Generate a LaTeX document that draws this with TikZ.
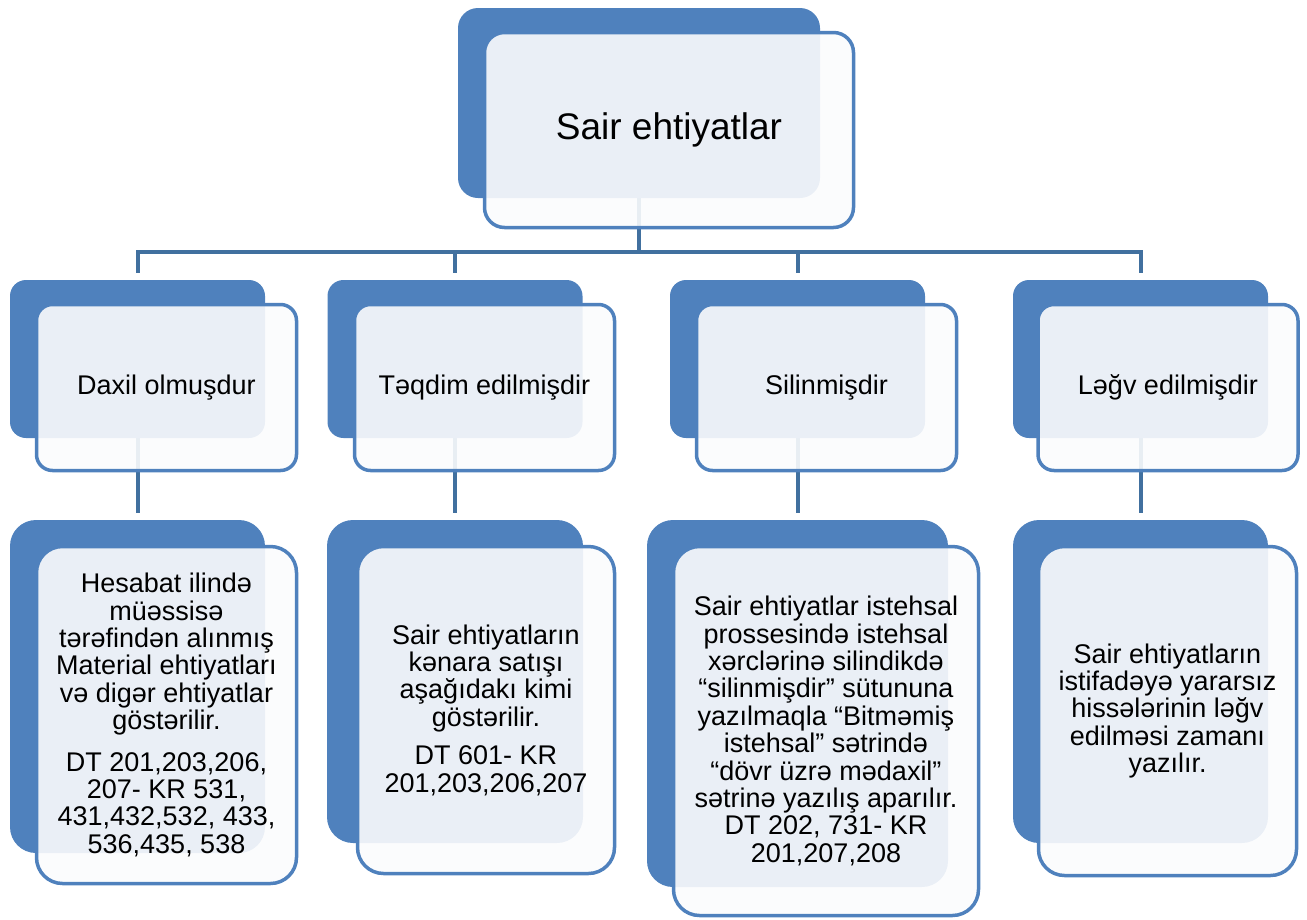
\documentclass[tikz,border=0pt]{standalone}
\usepackage{fontspec}
\setmainfont{Liberation Sans}
\definecolor{accent}{HTML}{4F81BD}
\definecolor{linkblue}{HTML}{41709F}
\definecolor{paper}{HTML}{FBFCFD}
\pgfdeclarelayer{background}
\pgfsetlayers{background,main}
\tikzset{
  backcard/.style={fill=accent, draw=none, inner sep=0pt},
  frontcard/.style={draw=accent, line width=3.5pt, fill=paper, fill opacity=0.9,
    text opacity=1, inner sep=0pt, align=center, text=black},
  rootcard/.style={rounded corners=20pt},
  midcard/.style={rounded corners=16pt},
  leafcard/.style={rounded corners=26pt},
  link/.style={draw=linkblue, line width=4pt},
  rootfont/.style={font=\fontsize{37}{40}\selectfont},
  midfont/.style={font=\fontsize{27}{29}\selectfont},
  leaffont/.style={font=\fontsize{27}{27.4}\selectfont},
}
\begin{document}
\begin{tikzpicture}[x=1pt,y=-1pt]
\path[use as bounding box] (0,0) rectangle (1307,919);

% root card
\node[backcard, rootcard, minimum width=362pt, minimum height=190pt] (rootB) at (639,103) {};
\node[frontcard, rootcard, rootfont, minimum width=369pt, minimum height=195pt] (root) at (669,130) {Sair ehtiyatlar};

% second tier
\node[backcard, midcard, minimum width=255pt, minimum height=158pt] (d1B) at (137.5,359) {};
\node[frontcard, midcard, midfont, minimum width=260pt, minimum height=166pt] (d1) at (166.5,387.5) {Daxil olmuşdur};

\node[backcard, midcard, minimum width=255pt, minimum height=158pt] (d2B) at (455,359) {};
\node[frontcard, midcard, midfont, minimum width=260pt, minimum height=166pt] (d2) at (484.5,387.5) {Təqdim edilmişdir};

\node[backcard, midcard, minimum width=255pt, minimum height=158pt] (d3B) at (797.5,359) {};
\node[frontcard, midcard, midfont, minimum width=260pt, minimum height=166pt] (d3) at (826.5,387.5) {Silinmişdir};

\node[backcard, midcard, minimum width=255pt, minimum height=158pt] (d4B) at (1140.5,359) {};
\node[frontcard, midcard, midfont, minimum width=260pt, minimum height=166pt] (d4) at (1168,387.5) {Ləğv edilmişdir};

% third tier
\node[backcard, leafcard, minimum width=255pt, minimum height=333pt] (e1B) at (137.5,686.5) {};
\node[frontcard, leafcard, leaffont, minimum width=260pt, minimum height=337pt] (e1) at (166.5,715)
  {Hesabat ilində\\ müəssisə\\ tərəfindən alınmış\\ Material ehtiyatları\\ və digər ehtiyatlar\\ göstərilir.\\[14pt]
   DT 201,203,206,\\ 207- KR 531,\\ 431,432,532, 433,\\ 536,435, 538};

\node[backcard, leafcard, minimum width=256pt, minimum height=323pt] (e2B) at (455,681.5) {};
\node[frontcard, leafcard, leaffont, minimum width=257pt, minimum height=327pt] (e2) at (486,710)
  {Sair ehtiyatların\\ kənara satışı\\ aşağıdakı kimi\\ göstərilir.\\[11pt]
   DT 601- KR\\ 201,203,206,207};

\node[backcard, leafcard, minimum width=301pt, minimum height=367pt] (e3B) at (797.5,703.5) {};
\node[frontcard, leafcard, leaffont, minimum width=305pt, minimum height=369pt] (e3) at (826,731)
  {Sair ehtiyatlar istehsal\\ prossesində istehsal\\ xərclərinə silindikdə\\ “silinmişdir” sütununa\\
   yazılmaqla “Bitməmiş\\ istehsal” sətrində\\ “dövr üzrə mədaxil”\\ sətrinə yazılış aparılır.\\
   DT 202, 731- KR\\ 201,207,208};

\node[backcard, leafcard, minimum width=255pt, minimum height=323pt] (e4B) at (1140.5,681.5) {};
\node[frontcard, leafcard, leaffont, minimum width=258pt, minimum height=329pt] (e4) at (1167.5,711)
  {Sair ehtiyatların\\ istifadəyə yararsız\\ hissələrinin ləğv\\ edilməsi zamanı\\ yazılır.};

% connectors, kept behind the cards
\begin{pgfonlayer}{background}
  \draw[link] (rootB.south) -- ++(0,54) coordinate (hub);
  \draw[link] (hub) -| ([yshift=7pt]d1B.north);
  \draw[link] (hub) -| ([yshift=7pt]d2B.north);
  \draw[link] (hub) -| ([yshift=7pt]d3B.north);
  \draw[link] (hub) -| ([yshift=7pt]d4B.north);
  \draw[link] (d1B.south) -- ([yshift=7pt]e1B.north);
  \draw[link] (d2B.south) -- ([yshift=7pt]e2B.north);
  \draw[link] (d3B.south) -- ([yshift=7pt]e3B.north);
  \draw[link] (d4B.south) -- ([yshift=7pt]e4B.north);
\end{pgfonlayer}
\end{tikzpicture}
\end{document}
